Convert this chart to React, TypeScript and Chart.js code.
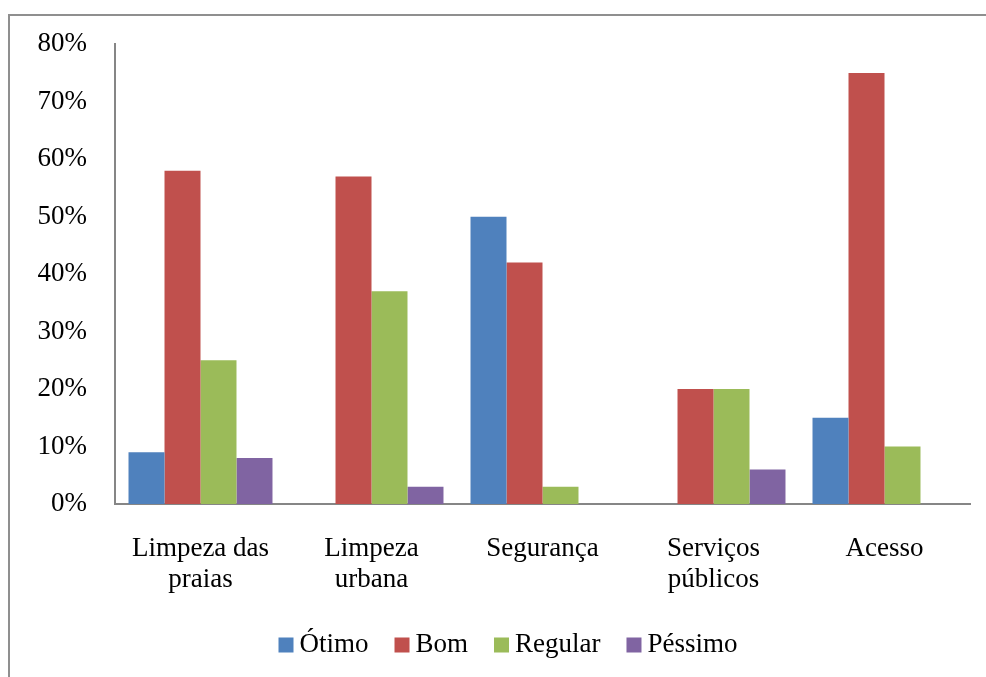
import React, { useEffect, useRef } from "react";
import { Chart, registerables } from "chart.js";

Chart.register(...registerables);

const categories: (string | string[])[] = [
  ["Limpeza das", "praias"],
  ["Limpeza", "urbana"],
  "Segurança",
  ["Serviços", "públicos"],
  "Acesso",
];

const otimo = [9, 0, 50, 0, 15];
const bom = [58, 57, 42, 20, 75];
const regular = [25, 37, 3, 20, 10];
const pessimo = [8, 3, 0, 6, 0];

const seriesNames = ["Ótimo", "Bom", "Regular", "Péssimo"];
const seriesColors = ["#4F81BD", "#C0504D", "#9BBB59", "#8064A2"];

const yMax = 80;
const yStep = 10;

const FONT = "'Liberation Serif', 'Times New Roman', serif";

// Legend layout (Excel-like: small square, tight gap to text)
const LEGEND_CENTER_X = 508;
const LEGEND_CENTER_Y = 645;
const LEGEND_BOX = 15;
const LEGEND_BOX_GAP = 6;
const LEGEND_ITEM_GAP = 26;

const legendPlugin = {
  id: "excelLegend",
  afterDraw(chart: any) {
    const ctx = chart.ctx;
    ctx.save();
    ctx.font = `27px ${FONT}`;
    ctx.textBaseline = "middle";
    ctx.textAlign = "left";
    const items = chart.data.datasets.map((d: any) => ({
      label: d.label as string,
      color: d.backgroundColor as string,
      w: ctx.measureText(d.label).width,
    }));
    const total =
      items.reduce((s: number, it: any) => s + LEGEND_BOX + LEGEND_BOX_GAP + it.w, 0) +
      LEGEND_ITEM_GAP * (items.length - 1);
    let x = LEGEND_CENTER_X - total / 2;
    for (const it of items) {
      ctx.fillStyle = it.color;
      ctx.fillRect(x, LEGEND_CENTER_Y - LEGEND_BOX / 2, LEGEND_BOX, LEGEND_BOX);
      x += LEGEND_BOX + LEGEND_BOX_GAP;
      ctx.fillStyle = "#000";
      ctx.fillText(it.label, x, LEGEND_CENTER_Y);
      x += it.w + LEGEND_ITEM_GAP;
    }
    ctx.restore();
  },
};

export default function App() {
  const ref = useRef<HTMLCanvasElement | null>(null);

  useEffect(() => {
    if (!ref.current) return;
    const values = [otimo, bom, regular, pessimo];
    const chart = new Chart(ref.current, {
      type: "bar",
      data: {
        labels: categories,
        datasets: values.map((v, i) => ({
          label: seriesNames[i],
          data: v,
          backgroundColor: seriesColors[i],
          borderWidth: 0,
          categoryPercentage: 0.842,
          barPercentage: 1,
        })),
      },
      plugins: [legendPlugin],
      options: {
        responsive: false,
        animation: false,
        devicePixelRatio: 1,
        layout: { padding: { top: 44, right: 16, bottom: 0, left: 0 } },
        plugins: {
          tooltip: { enabled: false },
          legend: { display: false },
        },
        scales: {
          x: {
            grid: { display: false, drawTicks: false },
            border: { display: true, color: "#868686", width: 2 },
            ticks: {
              color: "#000",
              font: { family: FONT, size: 27, lineHeight: 1.15 },
              padding: 29,
              maxRotation: 0,
              autoSkip: false,
            },
            afterFit: (s: any) => {
              s.height = 173;
            },
          },
          y: {
            min: 0,
            max: yMax,
            grid: { display: false, drawTicks: false },
            border: { display: true, color: "#868686", width: 2 },
            ticks: {
              stepSize: yStep,
              color: "#000",
              padding: 28,
              font: { family: FONT, size: 27 },
              callback: (v: any) => v + "%",
            },
            afterFit: (s: any) => {
              s.width = 115;
            },
          },
        },
      },
    });
    return () => chart.destroy();
  }, []);

  return (
    <div
      style={{
        position: "fixed",
        left: 0,
        top: 0,
        width: 986,
        height: 677,
        background: "#fff",
        overflow: "hidden",
      }}
    >
      <div
        style={{
          position: "absolute",
          left: 8,
          top: 14,
          width: 1000,
          height: 700,
          border: "2px solid #8f8f8f",
          boxSizing: "border-box",
        }}
      />
      <canvas
        ref={ref}
        width={986}
        height={677}
        style={{ position: "absolute", left: 0, top: 0 }}
      />
    </div>
  );
}
